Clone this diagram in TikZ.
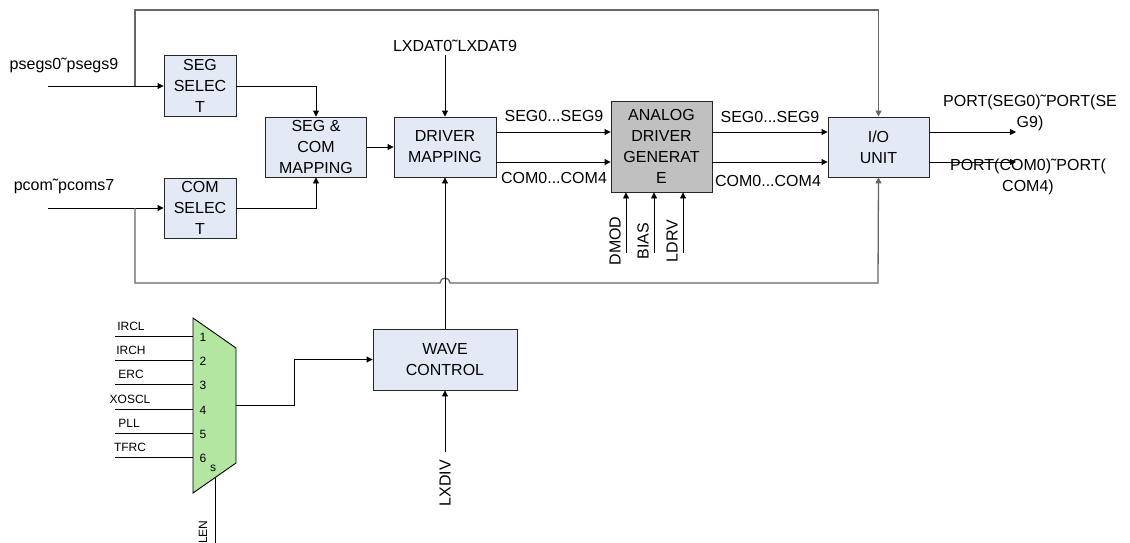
\documentclass[tikz,border=0pt]{standalone}
\usepackage{fontspec}
\setmainfont{Liberation Sans}
\usetikzlibrary{arrows.meta}
\definecolor{boxfill}{HTML}{E4EAF5}
\definecolor{anafill}{HTML}{C0C0C0}
\definecolor{muxfill}{HTML}{B3E6A0}
\definecolor{loopgray}{HTML}{666666}
\begin{document}
\begin{tikzpicture}[x=1pt,y=-1pt,
  blk/.style={draw=black!85,line width=0.9pt,fill=boxfill,align=center,inner sep=0pt,
    font=\fontsize{16}{21}\selectfont},
  arr/.style={line width=0.9pt,-{Triangle[length=6pt,width=6pt]}},
  ln/.style={line width=0.9pt},
  loop/.style={draw=loopgray,line width=1.3pt},
  lbl/.style={font=\fontsize{16}{21}\selectfont,inner sep=0pt,align=center},
  small/.style={font=\fontsize{12}{13}\selectfont,inner sep=0pt}]
\useasboundingbox (0,0) rectangle (1130,543);

% blocks
\node[blk,minimum width=72pt,minimum height=61pt] (seg) at (200,86) {SEG\\SELEC\\T};
\node[blk,minimum width=72pt,minimum height=60pt] (com) at (200,208) {COM\\SELEC\\T};
\node[blk,minimum width=101pt,minimum height=60pt] (segcom) at (316,147) {SEG \&\\COM\\MAPPING};
\node[blk,minimum width=102pt,minimum height=60pt] (driver) at (445,147) {DRIVER\\MAPPING};
\node[blk,fill=anafill,minimum width=101pt,minimum height=91pt] (analog) at (661.5,146.5) {ANALOG\\DRIVER\\GENERAT\\E};
\node[blk,minimum width=101pt,minimum height=60pt] (io) at (878.5,147) {I/O\\UNIT};
\node[blk,minimum width=144pt,minimum height=61pt] (wave) at (445,359.5) {WAVE\\CONTROL};

% inputs
\coordinate (psin) at (48,86);
\coordinate (pcin) at (48,208);
\node[lbl] (pslbl) at (64,65) {psegs0˜psegs9};
\node[lbl] (pclbl) at (64,186) {pcom˜pcoms7};
\draw[arr] (psin) -- (seg.west);
\draw[arr] (pcin) -- (com.west);
\draw[arr] (seg.east) -| (segcom.north);
\draw[arr] (com.east) -| (segcom.south);
\draw[arr] (segcom.east) -- (driver.west);

% LXDAT
\coordinate (lx) at (445,55);
\node[lbl] (lxlbl) at (455,46) {LXDAT0˜LXDAT9};
\draw[arr] (lx) -- (driver.north);

% buses
\coordinate (d1) at ([yshift=15pt]driver.east);
\coordinate (d2) at ([yshift=-15pt]driver.east);
\draw[arr] (d1) -- (d1 -| analog.west);
\draw[arr] (d2) -- (d2 -| analog.west);
\draw[arr] (d1 -| analog.east) -- (d1 -| io.west);
\draw[arr] (d2 -| analog.east) -- (d2 -| io.west);
\node[lbl] (s1) at (554,116) {SEG0...SEG9};
\node[lbl] (c1) at (554,178) {COM0...COM4};
\node[lbl] (s2) at (770,117) {SEG0...SEG9};
\node[lbl] (c2) at (768,181) {COM0...COM4};

% outputs
\coordinate (o1) at (1016,132);
\coordinate (o2) at (1016,162);
\draw[arr] (d1 -| io.east) -- (o1);
\draw[arr] (d2 -| io.east) -- (o2);
\node[lbl] (po1) at (1030,113) {PORT(SEG0)˜PORT(SE\\G9)};
\node[lbl] (po2) at (1028,177) {PORT(COM0)˜PORT(\\COM4)};

% DMOD BIAS LDRV
\coordinate (dm) at (626,253);
\coordinate (bi) at (654,253);
\coordinate (ld) at (683,253);
\draw[arr] (dm) -- (dm |- analog.south);
\draw[arr] (bi) -- (bi |- analog.south);
\draw[arr] (ld) -- (ld |- analog.south);
\node[lbl,rotate=90] (dml) at (615,241) {DMOD};
\node[lbl,rotate=90] (bil) at (643,241) {BIAS};
\node[lbl,rotate=90] (ldl) at (672,241) {LDRV};

% feedback loops
\coordinate (tl) at (135,86);
\coordinate (bl) at (135,208);
\draw[loop,-{Triangle[length=6pt,width=6pt]}] (tl) -- (135,10) -| (io.north);
\draw[loop,-{Triangle[length=6pt,width=6pt]}] (bl) -- (135,283) -- (440,283)
  arc[start angle=180,end angle=0,radius=5pt] -- (878,283) -- (io.south);

% wave to driver
\draw[arr] (wave.north) -- (driver.south);

% LXDIV
\coordinate (lxd) at (445,452);
\draw[arr] (lxd) -- (wave.south);
\node[lbl,rotate=90] (lxdl) at (445,483) {LXDIV};

% mux
\coordinate (m1) at (193,318);
\coordinate (m2) at (236,348);
\coordinate (m3) at (236,463);
\coordinate (m4) at (193,493);
\draw[line width=0.9pt,fill=muxfill] (m1) -- (m2) -- (m3) -- (m4) -- cycle;
\foreach \yy/\nm/\lab/\lx in {336/1/IRCL/131,360/2/IRCH/131,384/3/ERC/131,409/4/XOSCL/130,433/5/PLL/129,457/6/TFRC/130}{
  \coordinate (in\nm) at (115,\yy);
  \draw[ln] (in\nm) -- (193,\yy);
  \node[small] (n\nm) at (203,\yy+1) {\nm};
  \node[small] (l\nm) at (\lx,\yy-10) {\lab};
}
\node[small] (sl) at (213,468) {s};
\coordinate (mo) at (236,405);
\draw[arr] (mo) -- (294,405) |- (wave.west);
\coordinate (lenb) at (215,478);
\coordinate (lene) at (215,545);
\draw[ln] (lenb) -- (lene);
\node[small,rotate=90] (lenl) at (203,532) {LEN};
\end{tikzpicture}
\end{document}
